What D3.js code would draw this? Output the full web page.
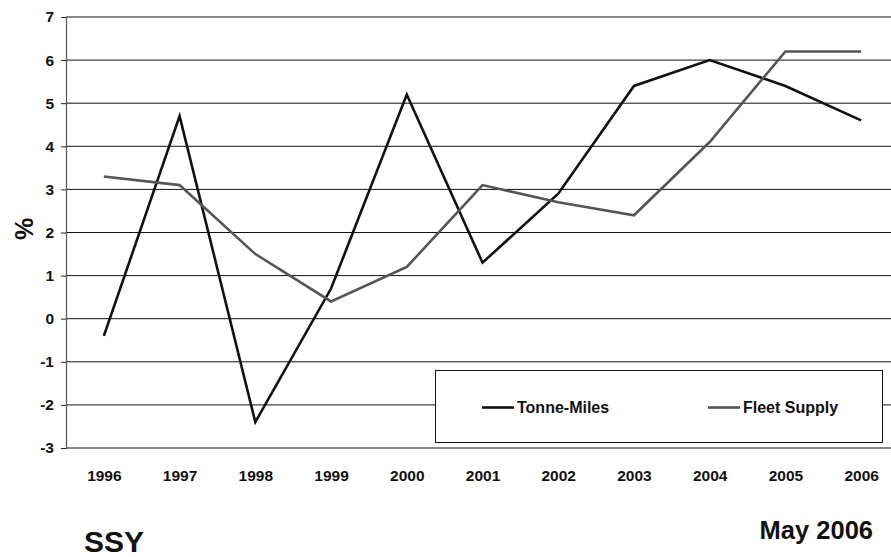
<!DOCTYPE html>
<html>
<head>
<meta charset="utf-8">
<script src="https://cdn.jsdelivr.net/npm/d3@7"></script>
<style>
  html, body { margin: 0; padding: 0; background: #fff; }
  svg { display: block; font-family: Arial, "Liberation Sans", sans-serif; font-weight: bold; }
</style>
</head>
<body>
<svg id="chart" width="891" height="557"></svg>
<script>
// Annual growth, %
const years = ["1996", "1997", "1998", "1999", "2000", "2001", "2002", "2003", "2004", "2005", "2006"];
const tonneMiles = [-0.4, 4.7, -2.4, 0.7, 5.2, 1.3, 2.9, 5.4, 6.0, 5.4, 4.6];
const fleetSupply = [3.3, 3.1, 1.5, 0.4, 1.2, 3.1, 2.7, 2.4, 4.1, 6.2, 6.2];
const yTicks = [-3, -2, -1, 0, 1, 2, 3, 4, 5, 6, 7];
const seriesNames = ["Tonne-Miles", "Fleet Supply"];

const FONT = "Arial, 'Liberation Sans', sans-serif";
const svg = d3.select("#chart");
const plot = { left: 66, right: 899, top: 17, bottom: 448 };

const x = d3.scalePoint().domain(years).range([plot.left, plot.right]).padding(0.5);
const y = d3.scaleLinear().domain([-3, 7]).range([plot.bottom, plot.top]);

// horizontal gridlines
svg.append("g")
  .selectAll("line")
  .data(yTicks)
  .join("line")
  .attr("x1", plot.left).attr("x2", plot.right)
  .attr("y1", d => y(d)).attr("y2", d => y(d))
  .attr("stroke", "#111").attr("stroke-width", 1);

// value axis (plain hyphen for negatives)
const yAxis = svg.append("g")
  .attr("transform", `translate(${plot.left},0)`)
  .call(d3.axisLeft(y).tickValues(yTicks).tickSize(5).tickPadding(7).tickFormat(d => String(d)));
yAxis.select(".domain").attr("stroke", "#555").attr("stroke-width", 1.2);
yAxis.selectAll(".tick line").attr("stroke", "#222");
yAxis.selectAll("text")
  .attr("font-size", 15.5).attr("font-weight", "bold").attr("fill", "#111")
  .attr("font-family", FONT);

// category axis labels
const xAxis = svg.append("g")
  .attr("transform", `translate(0,${plot.bottom})`)
  .call(d3.axisBottom(x).tickSize(0).tickPadding(22));
xAxis.select(".domain").remove();
xAxis.selectAll("text")
  .attr("font-size", 15.5).attr("font-weight", "bold").attr("fill", "#111")
  .attr("font-family", FONT);

// y-axis title
svg.append("text")
  .attr("transform", `translate(33,229) rotate(-90)`)
  .attr("text-anchor", "middle")
  .attr("font-size", 25)
  .attr("fill", "#111")
  .text("%");

// series lines
const line = d3.line()
  .x((d, i) => x(years[i]))
  .y(d => y(d));

const series = [
  { name: seriesNames[0], values: tonneMiles, color: "#111111" },
  { name: seriesNames[1], values: fleetSupply, color: "#555555" }
];

svg.append("g")
  .selectAll("path")
  .data(series)
  .join("path")
  .attr("d", d => line(d.values))
  .attr("fill", "none")
  .attr("stroke", d => d.color)
  .attr("stroke-width", 2.6)
  .attr("stroke-linejoin", "miter");

// legend
const legend = svg.append("g");
legend.append("rect")
  .attr("x", 435.5).attr("y", 370.5)
  .attr("width", 447).attr("height", 72)
  .attr("fill", "#fff").attr("stroke", "#111").attr("stroke-width", 1);

const legendItems = [
  { name: seriesNames[0], color: "#111111", x0: 482 },
  { name: seriesNames[1], color: "#555555", x0: 708 }
];
const li = legend.selectAll("g.item").data(legendItems).join("g").attr("class", "item");
li.append("line")
  .attr("x1", d => d.x0).attr("x2", d => d.x0 + 32)
  .attr("y1", 407.5).attr("y2", 407.5)
  .attr("stroke", d => d.color).attr("stroke-width", 2.6);
li.append("text")
  .attr("x", d => d.x0 + 35).attr("y", 407.5)
  .attr("dy", "0.35em")
  .attr("font-size", 16)
  .attr("fill", "#111")
  .text(d => d.name);

// footer
svg.append("text")
  .attr("x", 84).attr("y", 552)
  .attr("font-size", 30)
  .attr("fill", "#111")
  .text("SSY");

svg.append("text")
  .attr("x", 873).attr("y", 539)
  .attr("text-anchor", "end")
  .attr("font-size", 25.5)
  .attr("fill", "#111")
  .text("May 2006");
</script>
</body>
</html>
